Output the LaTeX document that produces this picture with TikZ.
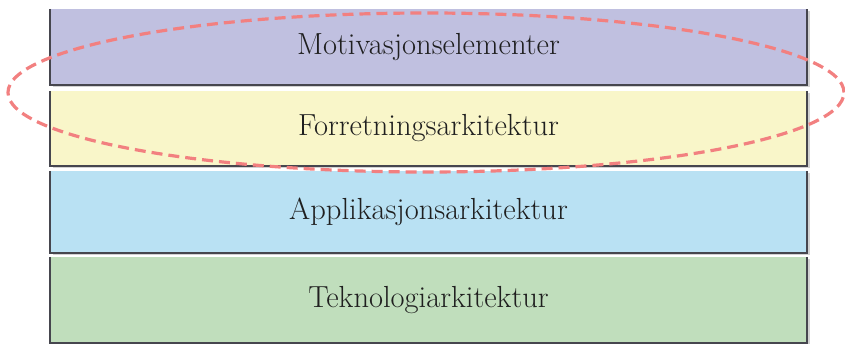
\documentclass[tikz,border=0pt]{standalone}
\usetikzlibrary{shadows,shapes.geometric}
\definecolor{motiv}{RGB}{192,192,224}
\definecolor{forr}{RGB}{249,246,201}
\definecolor{appl}{RGB}{185,225,243}
\definecolor{tekn}{RGB}{192,222,188}
\definecolor{edge}{RGB}{70,70,78}
\definecolor{ring}{RGB}{242,128,128}
\begin{document}
\begin{tikzpicture}[x=1pt,y=-1pt,
  layer/.style={minimum width=757pt, inner sep=0pt, outer sep=0pt,
    font=\fontsize{30.5}{36}\selectfont, text=black!88,
    drop shadow={shadow xshift=3pt, shadow yshift=-2pt, fill=black!35, opacity=0.5}},
  rim/.style={draw=edge, line width=1.5pt}]
  \useasboundingbox (0,0) rectangle (845,344);
  % the four architecture layers
  \node[layer, fill=motiv, minimum height=76pt] (mot) at (428.5,47) {Motivasjonselementer};
  \node[layer, fill=forr, minimum height=75pt] (for) at (428.5,128.5) {Forretningsarkitektur};
  \node[layer, fill=appl, minimum height=82pt] (app) at (428.5,212) {Applikasjonsarkitektur};
  \node[layer, fill=tekn, minimum height=86pt] (tek) at (428.5,300) {Teknologiarkitektur};
  % darker rims on the sides and the bottom of each layer
  \foreach \n in {mot,for,app,tek}
    \draw[rim] (\n.north west) -- (\n.south west) -- (\n.south east) -- (\n.north east);
  % dashed ring around the upper two layers
  \node[draw=ring, line width=3.2pt, dash pattern=on 11pt off 6pt,
        ellipse, minimum width=836pt, minimum height=159pt, inner sep=0pt] (ring)
        at (426,92.5) {};
\end{tikzpicture}
\end{document}
